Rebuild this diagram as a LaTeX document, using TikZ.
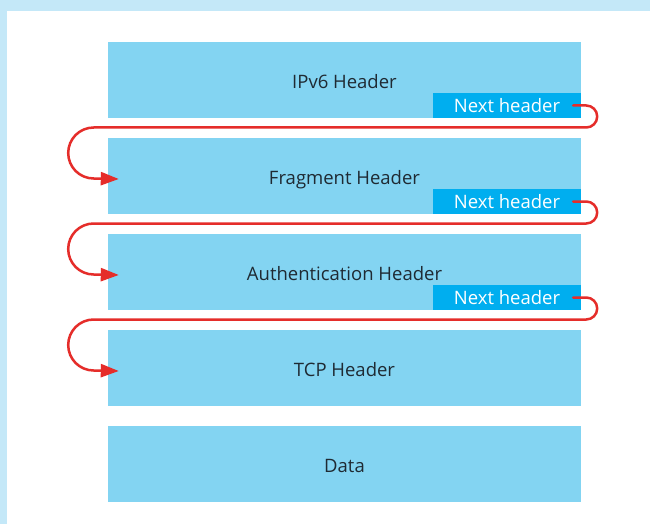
\documentclass[tikz,border=0pt]{standalone}
\usepackage{fontspec}
\setmainfont{Open Sans}
\usetikzlibrary{arrows.meta}
\definecolor{framebg}{HTML}{C4E8F8}
\definecolor{hdrfill}{HTML}{83D4F2}
\definecolor{nhfill}{HTML}{00AEEF}
\definecolor{txt}{HTML}{1F2A33}
\definecolor{conred}{HTML}{E52D2A}
\begin{document}
\begin{tikzpicture}[x=1pt,y=-1pt,
  hdr/.style={fill=hdrfill, draw=none, inner sep=0pt, minimum width=473pt, minimum height=76pt,
    text=txt, font=\fontsize{18.5}{22}\selectfont, text height=17pt, text depth=0pt},
  nhbox/.style={fill=nhfill, draw=none, inner sep=0pt, minimum width=148pt, minimum height=25pt,
    text=white, font=\fontsize{18.5}{22}\selectfont, text height=14pt, text depth=0pt},
  conn/.style={draw=conred, line width=2.5pt, line cap=round,
    -{Triangle[length=18pt,width=13pt]}}]
\useasboundingbox (0,0) rectangle (650,524);
\fill[framebg] (0,0) rectangle (650,524);
\fill[white] (7,11) rectangle (650,524);
\node[hdr] (b1) at (344.5,80) {IPv6 Header};
\node[hdr] (b2) at (344.5,176) {Fragment Header};
\node[hdr] (b3) at (344.5,272) {Authentication Header};
\node[hdr] (b4) at (344.5,368) {TCP Header};
\node[hdr] (b5) at (344.5,464) {Data};
\node[nhbox] (n1) at (507,105.5) {Next header};
\node[nhbox] (n2) at (507,201.5) {Next header};
\node[nhbox] (n3) at (507,297.5) {Next header};
\foreach \a/\b in {n1/b2, n2/b3, n3/b4}{
  \draw[conn] ([xshift=-8pt]\a.east) -- ++(13,0)
    arc[start angle=90, end angle=-90, radius=11pt]
    -- ++(-492.5,0)
    arc[start angle=90, end angle=270, radius=25.5pt]
    -- ([xshift=11pt,yshift=-3pt]\b.west);
}
\end{tikzpicture}
\end{document}
